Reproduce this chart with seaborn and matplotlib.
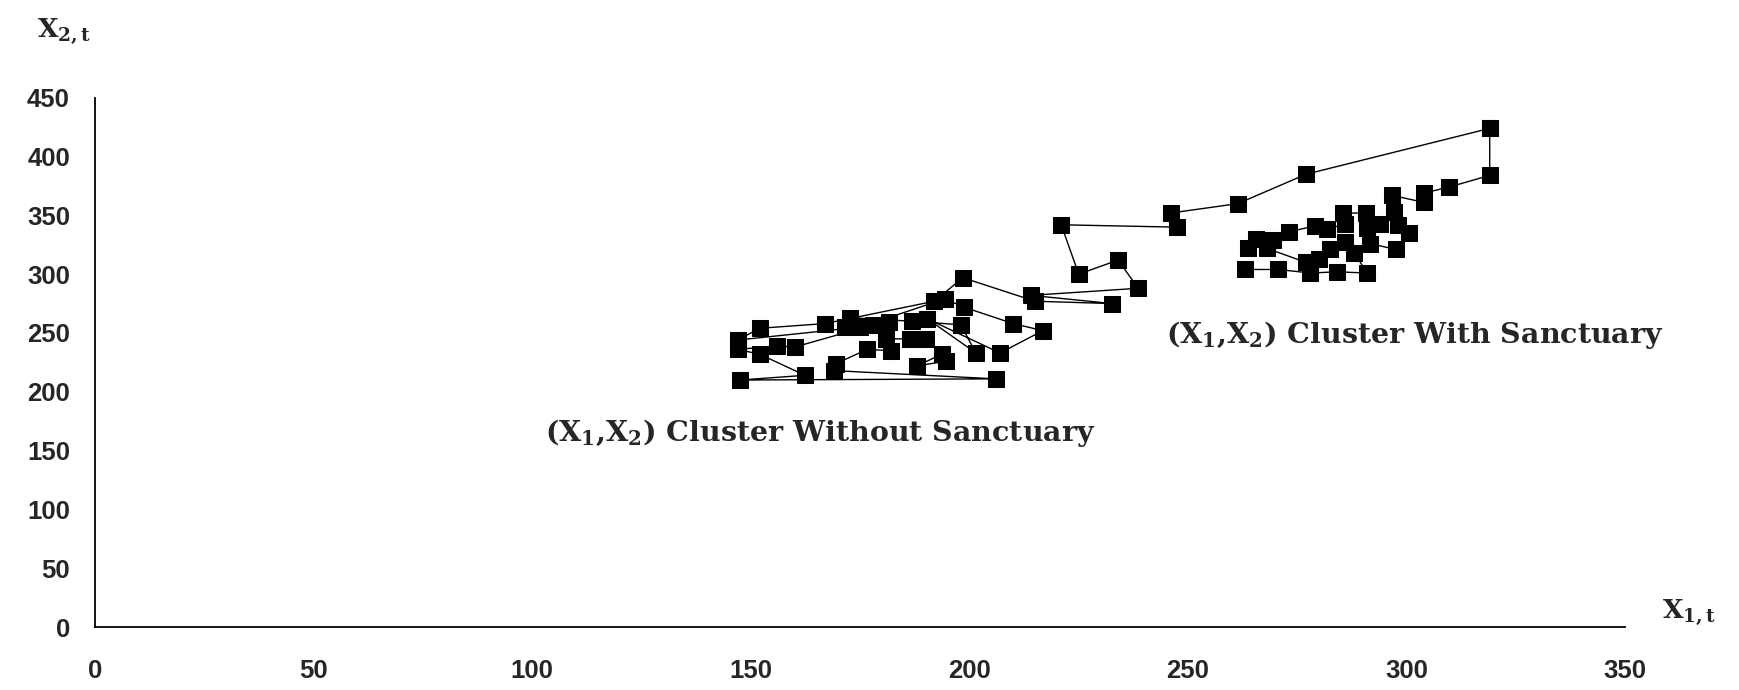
import matplotlib
matplotlib.use("Agg")
import matplotlib.pyplot as plt
import seaborn as sns
import pandas as pd

# trajectory without sanctuary (starts at common initial point)
x1_without = [319, 277, 261.4, 246, 247.5, 221, 225, 234, 238.6, 214, 232.7, 215,
              198.5, 192, 167, 152, 147, 175, 194.4, 198.7, 210, 216.8, 207, 190.4,
              201.5, 198, 186.8, 172.6, 171.5, 181.7, 178, 160, 156, 147, 152,
              162.4, 147.5, 206, 169, 169.5, 176.6, 182, 181, 186.3, 190, 193.7,
              188, 194.7]
x2_without = [424, 385, 360, 352, 340, 342, 300, 312, 288, 282, 275, 277,
              297, 277, 258, 254, 244, 255, 279, 272, 258, 252, 233, 262,
              233, 257, 260, 263, 255, 259, 257, 238, 239, 236, 232,
              214, 210, 211, 218, 224, 236, 235, 245, 245, 245, 232,
              222, 226]

# trajectory with sanctuary
x1_with = [319, 319, 309.6, 304, 304, 296.7, 297, 298, 300.5, 297.5, 291.7, 291,
           294, 290.6, 285.5, 286, 281.8, 279, 273, 265.5, 263.7, 269.5, 268,
           277, 280, 282.5, 286, 288, 291, 284, 278, 270.6, 263]
x2_with = [424, 384, 374, 369, 361, 367, 353, 342, 335, 321, 326, 339,
           343, 352, 352, 343, 338, 341, 336, 330, 322, 329, 322,
           310, 313, 321, 327, 318, 301, 302, 301, 304, 304]

x_ticks = [0, 50, 100, 150, 200, 250, 300, 350]
y_ticks = [0, 50, 100, 150, 200, 250, 300, 350, 400, 450]

sns.set_style("white")
plt.rcParams["font.family"] = ["Liberation Sans", "DejaVu Sans"]
plt.rcParams["mathtext.fontset"] = "dejavuserif"

fig = plt.figure(figsize=(17.39, 6.9), dpi=100)
ax = fig.add_axes([0.0546, 0.0913, 0.88, 0.767])

for xs, ys in [(x1_without, x2_without), (x1_with, x2_with)]:
    df = pd.DataFrame({"x1": xs, "x2": ys, "t": range(len(xs))})
    sns.lineplot(data=df, x="x1", y="x2", sort=False, estimator=None,
                 color="black", linewidth=1.0, marker="s", markersize=11,
                 markeredgecolor="black", markerfacecolor="black", ax=ax)

ax.set_xlim(0, 350)
ax.set_ylim(0, 450)
ax.set_xticks(x_ticks)
ax.set_yticks(y_ticks)
ax.set_xlabel("")
ax.set_ylabel("")
for s in ["top", "right"]:
    ax.spines[s].set_visible(False)
for s in ["left", "bottom"]:
    ax.spines[s].set_linewidth(1.3)
    ax.spines[s].set_color("black")
ax.tick_params(axis="x", direction="inout", length=18, width=1.2, pad=14,
               labelsize=18.5)
ax.tick_params(axis="y", direction="inout", length=12, width=1.0, pad=12,
               labelsize=18.5)
for lab in ax.get_xticklabels() + ax.get_yticklabels():
    lab.set_fontweight("bold")

serif = ["DejaVu Serif"]
fig.text(0.021, 0.955, r"X$_\mathbf{2,t}$", fontsize=19, fontweight="bold",
         family=serif, va="center")
fig.text(0.956, 0.113, r"X$_\mathbf{1,t}$", fontsize=19, fontweight="bold",
         family=serif, va="center")

ax.text(103, 165, r"(X$_\mathbf{1}$,X$_\mathbf{2}$) Cluster Without Sanctuary",
        fontsize=20.5, fontweight="bold", family=serif, va="center")
ax.text(245, 248, r"(X$_\mathbf{1}$,X$_\mathbf{2}$) Cluster With Sanctuary",
        fontsize=20.5, fontweight="bold", family=serif, va="center")

fig.savefig("out.png", dpi=100, facecolor="white")
